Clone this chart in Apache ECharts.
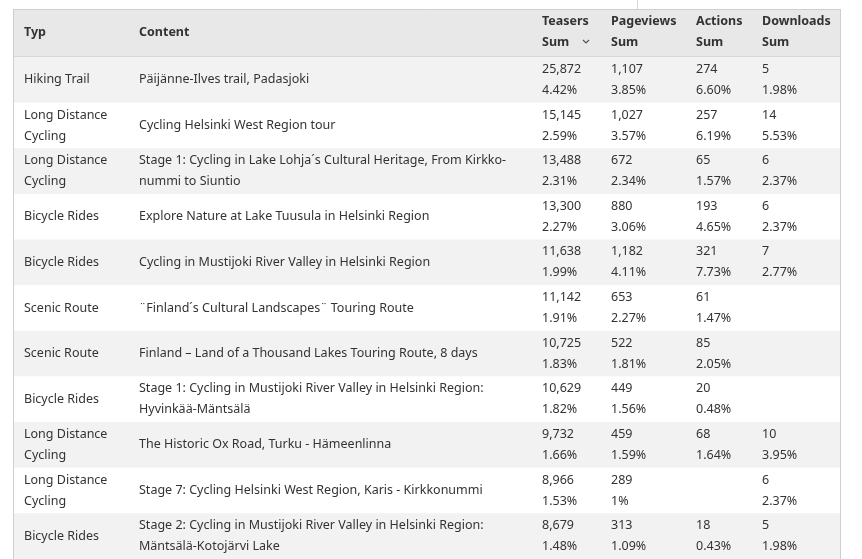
<!DOCTYPE html>
<html><head><meta charset="utf-8">
<script src="https://cdn.jsdelivr.net/npm/echarts@6/dist/echarts.min.js"></script>
<style>html,body{margin:0;padding:0;background:#fff}#c{width:862px;height:559px}</style>
</head><body><div id="c"></div>
<script>
// ---- data ----
const types = ["Hiking Trail", "Long Distance Cycling", "Long Distance Cycling", "Bicycle Rides", "Bicycle Rides", "Scenic Route", "Scenic Route", "Bicycle Rides", "Long Distance Cycling", "Long Distance Cycling", "Bicycle Rides"];
const contents = [
  "Päijänne-Ilves trail, Padasjoki",
  "Cycling Helsinki West Region tour",
  "Stage 1: Cycling in Lake Lohja´s Cultural Heritage, From Kirkko-\nnummi to Siuntio",
  "Explore Nature at Lake Tuusula in Helsinki Region",
  "Cycling in Mustijoki River Valley in Helsinki Region",
  "¨Finland´s Cultural Landscapes¨ Touring Route",
  "Finland – Land of a Thousand Lakes Touring Route, 8 days",
  "Stage 1: Cycling in Mustijoki River Valley in Helsinki Region:\nHyvinkää-Mäntsälä",
  "The Historic Ox Road, Turku - Hämeenlinna",
  "Stage 7: Cycling Helsinki West Region, Karis - Kirkkonummi",
  "Stage 2: Cycling in Mustijoki River Valley in Helsinki Region:\nMäntsälä-Kotojärvi Lake"
];
const teasers = [25872, 15145, 13488, 13300, 11638, 11142, 10725, 10629, 9732, 8966, 8679];
const teasersPct = [4.42, 2.59, 2.31, 2.27, 1.99, 1.91, 1.83, 1.82, 1.66, 1.53, 1.48];
const pageviews = [1107, 1027, 672, 880, 1182, 653, 522, 449, 459, 289, 313];
const pageviewsPct = [3.85, 3.57, 2.34, 3.06, 4.11, 2.27, 1.81, 1.56, 1.59, 1, 1.09];
const actions = [274, 257, 65, 193, 321, 61, 85, 20, 68, null, 18];
const actionsPct = [6.60, 6.19, 1.57, 4.65, 7.73, 1.47, 2.05, 0.48, 1.64, null, 0.43];
const downloads = [5, 14, 6, 6, 7, null, null, null, 10, 6, 5];
const downloadsPct = [1.98, 5.53, 2.37, 2.37, 2.77, null, null, null, 3.95, 2.37, 1.98];
const headers = [["Typ"], ["Content"], ["Teasers", "Sum"], ["Pageviews", "Sum"], ["Actions", "Sum"], ["Downloads", "Sum"]];

// ---- layout / style ----
const FONT = '"Noto Sans", sans-serif';
const FS = '12.5px ';
const TXT = '#333333';
const colX = [24, 139, 542, 611, 696, 762];
const tableL = 13, tableR = 840, tableT = 9, headB = 57, rowH = 46;

const metrics = [[teasers, teasersPct], [pageviews, pageviewsPct], [actions, actionsPct], [downloads, downloadsPct]];
const fmtNum = v => v == null ? '' : v.toLocaleString('en-US');
const fmtPct = v => v == null ? '' : (Number.isInteger(v) ? v + '%' : v.toFixed(2) + '%');

const rowIdx = types.map((_, i) => i);

const chart = echarts.init(document.getElementById('c'), null, {renderer: 'canvas'});

function renderItem(params, api) {
  const i = api.value(0);
  const c = api.coord([0, i]);
  const h = api.size([0, 1])[1];
  const xL = api.coord([tableL, i])[0];
  const xR = api.coord([tableR, i])[0];
  const cy = c[1];
  const children = [{
    type: 'rect',
    shape: {x: xL, y: cy - h / 2, width: xR - xL, height: h},
    style: {fill: i % 2 === 0 ? '#f2f2f2' : '#ffffff'}
  }, {
    type: 'text',
    style: {x: api.coord([colX[0], i])[0], y: cy, text: types[i], font: FS + FONT, fill: TXT,
      verticalAlign: 'middle', width: 105, overflow: 'break', lineHeight: 21}
  }, {
    type: 'text',
    style: {x: api.coord([colX[1], i])[0], y: cy, text: contents[i], font: FS + FONT, fill: TXT,
      verticalAlign: 'middle', lineHeight: 21}
  }];
  metrics.forEach((m, k) => {
    const x = api.coord([colX[2 + k], i])[0];
    children.push({type: 'text', style: {x: x, y: cy - 10.5, text: fmtNum(m[0][i]), font: FS + FONT, fill: TXT, verticalAlign: 'middle'}});
    children.push({type: 'text', style: {x: x, y: cy + 10.5, text: fmtPct(m[1][i]), font: FS + FONT, fill: TXT, verticalAlign: 'middle'}});
  });
  return {type: 'group', children: children};
}

const headerGraphics = [];
headers.forEach((lines, k) => {
  const ys = lines.length === 1 ? [32] : [21, 42];
  lines.forEach((t, j) => headerGraphics.push({
    type: 'text', z: 10,
    style: {x: colX[k], y: ys[j], text: t, font: 'bold ' + FS + FONT, fill: TXT, verticalAlign: 'middle'}
  }));
});

chart.setOption({
  animation: false,
  grid: {left: 0, right: 0, top: headB, height: rowH * types.length},
  xAxis: {type: 'value', min: 0, max: 862, show: false},
  yAxis: {type: 'category', data: rowIdx, inverse: true, show: false},
  series: [{
    type: 'custom',
    data: rowIdx.map(i => [i]),
    encode: {x: -1, y: 0},
    renderItem: renderItem,
    clip: false
  }],
  graphic: [
    {type: 'rect', z: 5, shape: {x: tableL, y: tableT, width: tableR - tableL, height: headB - tableT}, style: {fill: '#e8e8e8'}},
    {type: 'line', z: 6, shape: {x1: tableL, y1: headB - 0.5, x2: tableR, y2: headB - 0.5}, style: {stroke: '#d6d6d6', lineWidth: 1}},
    {type: 'line', z: 20, shape: {x1: tableL, y1: tableT + 0.5, x2: tableR, y2: tableT + 0.5}, style: {stroke: '#cfcfcf', lineWidth: 1}},
    {type: 'line', z: 20, shape: {x1: tableL + 0.5, y1: tableT, x2: tableL + 0.5, y2: 559}, style: {stroke: '#cfcfcf', lineWidth: 1}},
    {type: 'line', z: 20, shape: {x1: tableR + 0.5, y1: tableT, x2: tableR + 0.5, y2: 559}, style: {stroke: '#cfcfcf', lineWidth: 1}},
    {type: 'line', z: 20, shape: {x1: 637.5, y1: 0, x2: 637.5, y2: tableT}, style: {stroke: '#d8d8d8', lineWidth: 1}},
    {type: 'polyline', z: 20, shape: {points: [[583, 40], [586, 43], [589, 40]]}, style: {stroke: '#555', lineWidth: 1.2, fill: null}}
  ].concat(headerGraphics)
});
</script>
</body></html>
